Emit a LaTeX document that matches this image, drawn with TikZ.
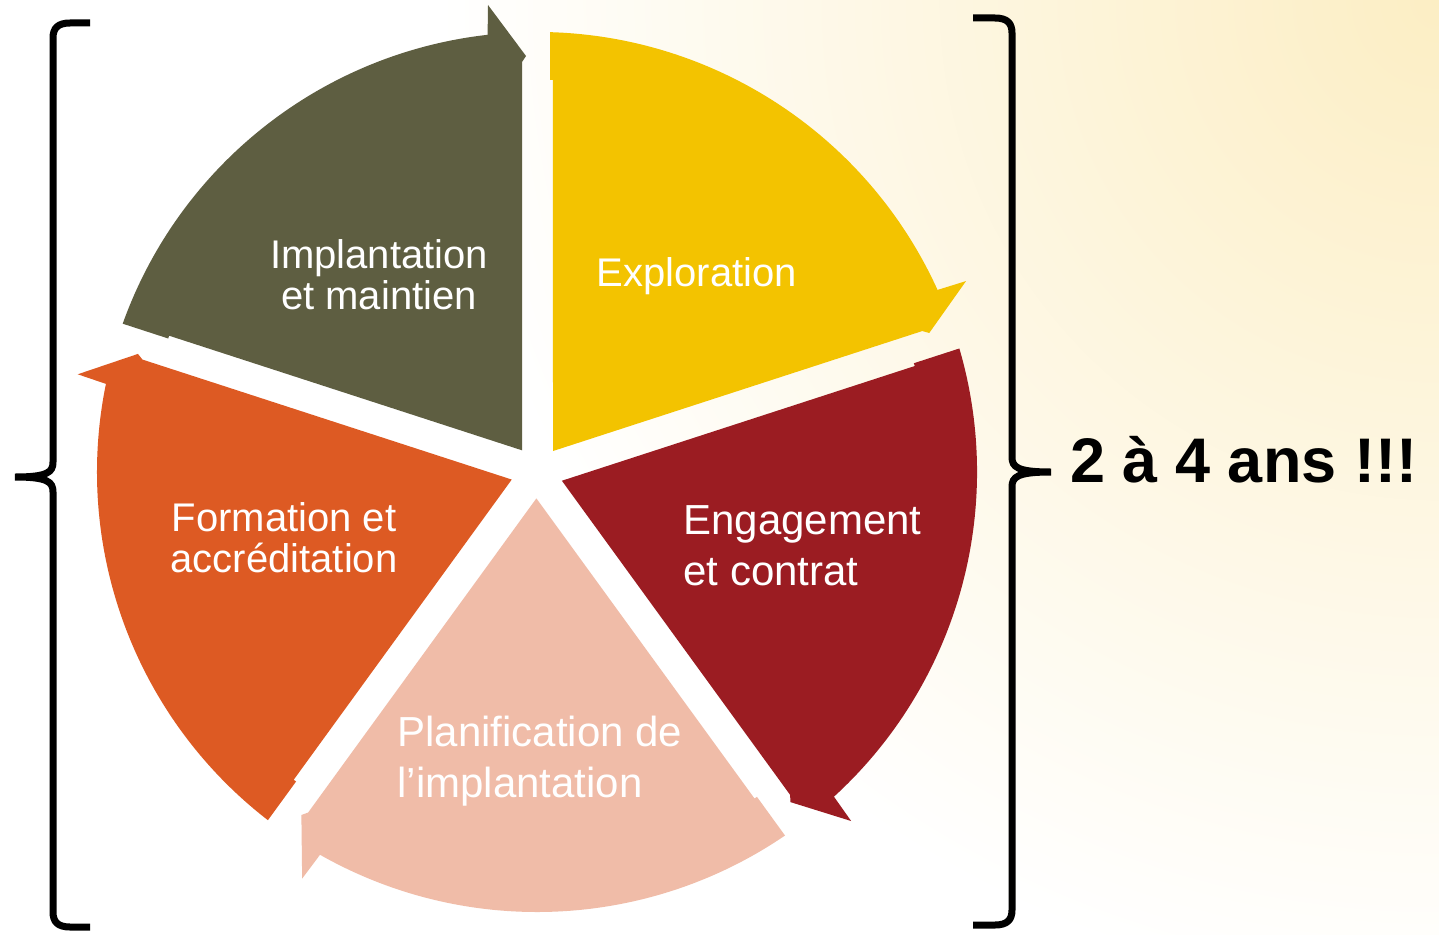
\documentclass[tikz,border=0pt]{standalone}
\usepackage{fontspec}
\setmainfont{Liberation Sans}
\definecolor{cImp}{RGB}{94,94,65}
\definecolor{cExp}{RGB}{243,195,0}
\definecolor{cEng}{RGB}{155,28,34}
\definecolor{cPla}{RGB}{240,188,168}
\definecolor{cFor}{RGB}{221,90,35}
\definecolor{cBg}{RGB}{252,238,196}
\begin{document}
\begin{tikzpicture}[x=0.5pt,y=0.5pt,
  lbl/.style={text=white,font=\fontsize{20}{20.5}\selectfont,inner sep=0pt},
  lblbig/.style={text=white,font=\fontsize{21}{25.5}\selectfont,inner sep=0pt},
  brace/.style={draw=black,line width=3.5pt}]
\useasboundingbox (0,0) rectangle (1439,934);
% background
\begin{scope}
\clip (0,0) rectangle (1439,934);
\fill[white] (0,0) rectangle (1439,934);
\shade[inner color=cBg,outer color=white] (1439,934) circle[radius=1000];
\end{scope}
% segments
\foreach \a/\c in {18/cExp,-54/cEng,-126/cPla,162/cFor,90/cImp}{
  \fill[\c,shift={(537,462)},rotate=\a]
    (21.7,15) -- (410,15) -- (416,11) -- (467,49) -- (437.2,49.4)
    arc[start angle=6.44,end angle=70.3,radius=440]
    -- (133.5,368.8) -- (136.3,367.9) -- cycle;
}
% labels
\node[lbl,align=center] (imp) at (379,659) {Implantation\\et maintien};
\node[lbl] (exp) at (697,658) {Exploration};
\node[lblbig,align=left,anchor=west] (eng) at (683,388) {Engagement\\et contrat};
\node[lblbig,align=left,anchor=west] (pla) at (397,173) {Planification de\\l’implantation};
\node[lbl,align=center] (for) at (284,396) {Formation et\\accréditation};
% braces
\draw[brace] (90,911) -- (70,911) .. controls (58,911) and (53,906) .. (53,896)
  -- (53,472) .. controls (53,462) and (48,457) .. (15,457)
  .. controls (48,457) and (53,452) .. (53,442)
  -- (53,22) .. controls (53,12) and (58,7) .. (70,7) -- (90,7);
\draw[brace] (973,916) -- (995,916) .. controls (1007,916) and (1012,911) .. (1012,901)
  -- (1012,477) .. controls (1012,467) and (1017,462) .. (1051,462)
  .. controls (1017,462) and (1012,457) .. (1012,447)
  -- (1012,24) .. controls (1012,14) and (1007,9) .. (995,9) -- (973,9);
\node[font=\fontsize{31.5}{36}\selectfont\bfseries,anchor=base west,inner sep=0pt] (dur) at (1070,452) {2 à 4 ans !!!};
\end{tikzpicture}
\end{document}
